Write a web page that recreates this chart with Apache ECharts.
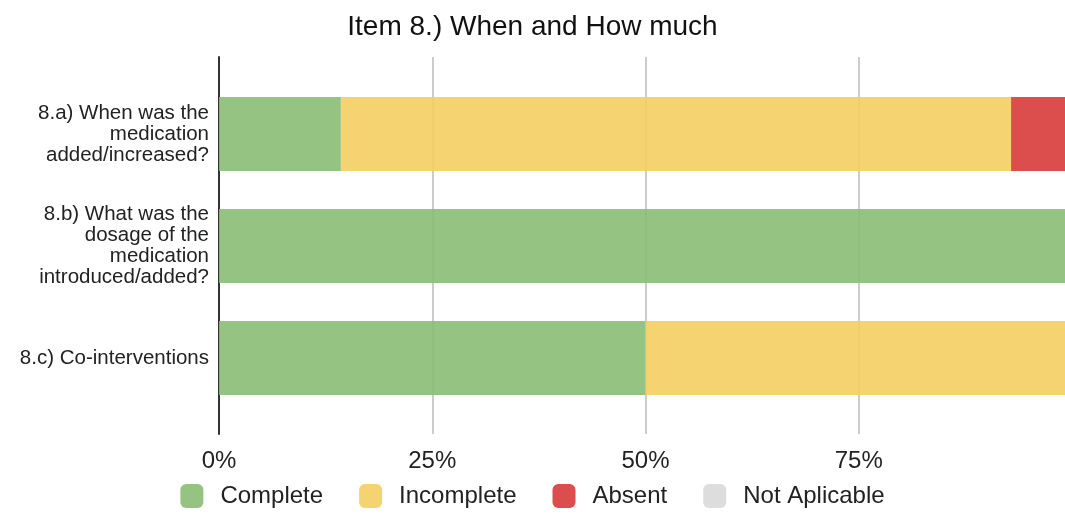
<!DOCTYPE html>
<html>
<head>
<meta charset="utf-8">
<script src="https://cdn.jsdelivr.net/npm/echarts@6/dist/echarts.min.js"></script>
<style>
  html, body { margin: 0; padding: 0; background: #fff; }
  #chart { width: 1065px; height: 515px; }
</style>
</head>
<body>
<div id="chart"></div>
<script>
// Questions of item 8, top to bottom
const categories = [
  '8.a) When was the\nmedication\nadded/increased?',
  '8.b) What was the\ndosage of the\nmedication\nintroduced/added?',
  '8.c) Co-interventions'
];
// Share of answers per rating, in percent
const complete      = [14.29, 100, 50];
const incomplete    = [78.57, 0, 50];
const absent        = [7.14, 0, 0];
const notApplicable = [0, 0, 0];
const percentTicks  = [0, 25, 50, 75, 100];

const FONT = '"Liberation Sans", Arial, sans-serif';

function barSeries(name, data, color) {
  return {
    name: name,
    type: 'bar',
    stack: 'total',
    xAxisIndex: 0,
    yAxisIndex: 0,
    barWidth: 74,
    data: data,
    itemStyle: { color: color, opacity: 0.9 },
    emphasis: { disabled: true }
  };
}

const chart = echarts.init(document.getElementById('chart'), null, { renderer: 'canvas' });
chart.setOption({
  animation: false,
  title: {
    text: 'Item 8.) When and How much',
    left: 'center',
    top: 8,
    textStyle: { fontFamily: FONT, fontSize: 28, fontWeight: 'normal', color: '#111' }
  },
  legend: {
    bottom: 2,
    left: 'center',
    itemWidth: 23,
    itemHeight: 24,
    itemGap: 36,
    icon: 'roundRect',
    textStyle: { fontFamily: FONT, fontSize: 24, color: '#222', padding: [0, 0, 0, 12] },
    data: ['Complete', 'Incomplete', 'Absent', 'Not Aplicable']
  },
  grid: [
    // bars
    { left: 219, right: -7, top: 78, bottom: 101, outerBoundsMode: 'none' },
    // gridlines, tick labels and baseline
    { left: 219, right: -7, top: 57, bottom: 81, outerBoundsMode: 'none' }
  ],
  xAxis: [
    { gridIndex: 0, type: 'value', min: 0, max: 100, show: false },
    {
      gridIndex: 1, type: 'value', min: percentTicks[0], max: percentTicks[percentTicks.length - 1],
      interval: 25,
      axisLine: { show: false },
      axisTick: { show: false },
      splitLine: { show: true, lineStyle: { color: '#cccccc', width: 2 } },
      axisLabel: {
        margin: 15,
        showMaxLabel: false,
        fontFamily: FONT, fontSize: 24, color: '#222',
        formatter: v => v + '%'
      }
    }
  ],
  yAxis: [
    {
      gridIndex: 0, type: 'category', inverse: true, data: categories,
      axisLine: { show: false },
      axisTick: { show: false },
      splitLine: { show: false },
      axisLabel: {
        margin: 10,
        fontFamily: FONT, fontSize: 20.5, lineHeight: 21, color: '#222', align: 'right'
      }
    },
    {
      gridIndex: 1, type: 'value', min: 0, max: 1,
      axisLine: { show: true, lineStyle: { color: '#333', width: 2 } },
      axisTick: { show: false },
      axisLabel: { show: false },
      splitLine: { show: false }
    }
  ],
  series: [
    barSeries('Complete', complete, '#89bd74'),
    barSeries('Incomplete', incomplete, '#f4ce61'),
    barSeries('Absent', absent, '#d83a3a'),
    barSeries('Not Aplicable', notApplicable, '#d9d9d9')
  ]
});
</script>
</body>
</html>
